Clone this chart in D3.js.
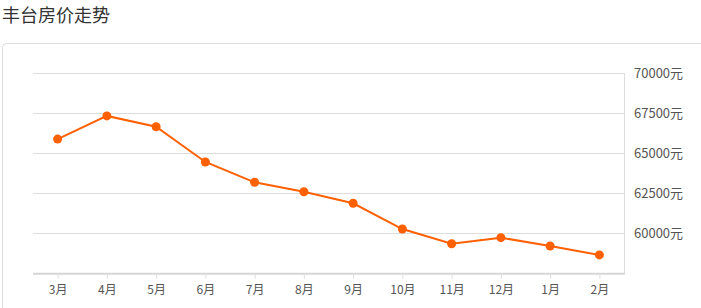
<!DOCTYPE html>
<html>
<head>
<meta charset="utf-8">
<script src="https://cdn.jsdelivr.net/npm/d3@7"></script>
<style>
html,body{margin:0;padding:0;background:#fff;overflow:hidden;}
svg{display:block;}
</style>
</head>
<body>
<svg id="chart" width="701" height="308"></svg>
<script>
const title = "丰台房价走势";
const months = ["3月","4月","5月","6月","7月","8月","9月","10月","11月","12月","1月","2月"];
const prices = [65950, 67400, 66720, 64520, 63250, 62660, 61940, 60330, 59410, 59790, 59270, 58710];
const yTicks = [60000, 62500, 65000, 67500, 70000];
const yUnit = "元";

(function () {
const svg = d3.select("#chart");
const font = "'Noto Sans CJK SC','Microsoft YaHei',sans-serif";

svg.append("text").attr("x", 2).attr("y", 22)
  .attr("font-family", font).attr("font-size", 18).attr("fill", "#333")
  .text(title);

// card
svg.append("rect").attr("x", 2.5).attr("y", 43.5).attr("width", 720).attr("height", 300)
  .attr("rx", 4).attr("fill", "#fff").attr("stroke", "#ddd");

const pLeft = 33, pRight = 624, pTop = 74.3, pBottom = 274.3;
const x = d3.scalePoint().domain(months).range([pLeft, pRight]).padding(0.5);
const y = d3.scaleLinear().domain([57500, 70000]).range([pBottom, pTop]);

// gridlines
svg.append("g").selectAll("line").data(yTicks).join("line")
  .attr("x1", pLeft).attr("x2", pRight)
  .attr("y1", d => Math.round(y(d)) - 0.5).attr("y2", d => Math.round(y(d)) - 0.5)
  .attr("stroke", "#dcdcdc");

// right vertical axis line
svg.append("line").attr("x1", pRight + 0.5).attr("x2", pRight + 0.5)
  .attr("y1", Math.round(pTop) - 1).attr("y2", pBottom).attr("stroke", "#dcdcdc");

// y labels via axis
const yAxis = svg.append("g").attr("transform", `translate(${pRight},-1)`)
  .call(d3.axisRight(y).tickValues(yTicks).tickSize(0).tickPadding(10).tickFormat(d => d + yUnit));
yAxis.select(".domain").remove();
yAxis.selectAll("text").attr("font-family", font).attr("font-size", 13).attr("fill", "#555");

// x axis
const xAxis = svg.append("g").attr("transform", `translate(0,${pBottom - 0.5})`)
  .call(d3.axisBottom(x).tickSize(5).tickPadding(7).tickSizeOuter(0));
xAxis.select(".domain").attr("stroke", "#d6d6d6").attr("stroke-width", 2)
  .attr("d", `M${pLeft},0H${pRight + 1}`);
xAxis.selectAll(".tick line").attr("stroke", "#ddd");
xAxis.selectAll("text").attr("font-family", font).attr("font-size", 12).attr("fill", "#555");

// line
const color = "#ff6000";
svg.append("path").datum(prices)
  .attr("fill", "none").attr("stroke", color).attr("stroke-width", 2)
  .attr("d", d3.line().x((d, i) => x(months[i])).y(d => y(d)));

svg.append("g").selectAll("circle").data(prices).join("circle")
  .attr("cx", (d, i) => x(months[i])).attr("cy", d => y(d)).attr("r", 4.5)
  .attr("fill", color);
})();
</script>
</body>
</html>
